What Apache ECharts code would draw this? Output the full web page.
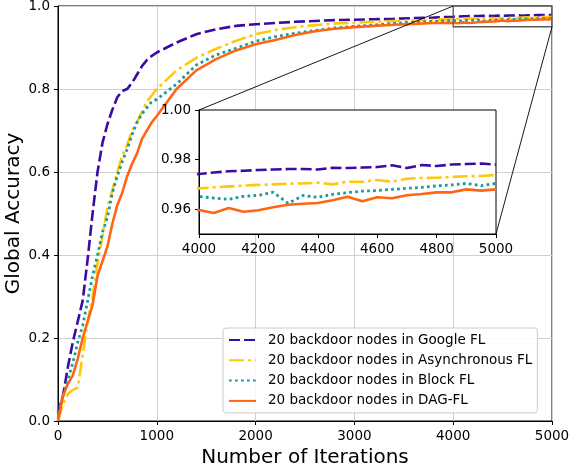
<!DOCTYPE html>
<html>
<head>
<meta charset="utf-8">
<script src="https://cdn.jsdelivr.net/npm/echarts@6/dist/echarts.min.js"></script>
<style>
html,body{margin:0;padding:0;background:#fff;}
#chart{width:570px;height:468px;}
</style>
</head>
<body>
<div id="chart"></div>
<script>
// ---- data ----
const iterations = [
  0, 50, 100, 150, 200, 250, 300, 350, 400, 450, 500, 550, 600, 650, 700, 750, 800, 850, 900, 950, 1000,
  1200, 1400, 1600, 1800, 2000, 2200, 2400, 2600, 2800, 3000, 3200, 3400, 3600, 3800,
  4000, 4050, 4100, 4150, 4200, 4250, 4300, 4350, 4400, 4450, 4500, 4550, 4600, 4650, 4700, 4750, 4800, 4850, 4900, 4950, 5000
];
const googleFL = [
  0.02, 0.06, 0.13, 0.19, 0.24, 0.29, 0.39, 0.50, 0.60, 0.67, 0.715, 0.75, 0.78, 0.795, 0.80, 0.815, 0.835, 0.855, 0.87, 0.88, 0.888,
  0.912, 0.932, 0.944, 0.952, 0.956, 0.959, 0.962, 0.964, 0.966, 0.967, 0.968, 0.969, 0.971, 0.972,
  0.9742, 0.9748, 0.9753, 0.9755, 0.9758, 0.9760, 0.9762, 0.9762, 0.9760, 0.9767, 0.9766, 0.9768, 0.9770, 0.9777, 0.9766, 0.9778, 0.9774, 0.9780, 0.9782, 0.9784, 0.9780
];
const asyncFL = [
  0.0, 0.04, 0.065, 0.075, 0.08, 0.16, 0.24, 0.30, 0.38, 0.445, 0.515, 0.555, 0.60, 0.64, 0.665, 0.70, 0.72, 0.745, 0.77, 0.785, 0.80,
  0.845, 0.875, 0.897, 0.916, 0.932, 0.942, 0.949, 0.954, 0.958, 0.960, 0.962, 0.964, 0.965, 0.967,
  0.9684, 0.9688, 0.9692, 0.9695, 0.9698, 0.9700, 0.9703, 0.9704, 0.9707, 0.9700, 0.9711, 0.9710, 0.9718, 0.9711, 0.9723, 0.9726, 0.9727, 0.9730, 0.9733, 0.9734, 0.9738
];
const blockFL = [
  0.02, 0.06, 0.10, 0.14, 0.19, 0.23, 0.29, 0.35, 0.40, 0.455, 0.49, 0.55, 0.59, 0.625, 0.655, 0.69, 0.72, 0.74, 0.755, 0.77, 0.775,
  0.812, 0.858, 0.882, 0.898, 0.915, 0.926, 0.934, 0.941, 0.947, 0.951, 0.954, 0.958, 0.961, 0.963,
  0.9651, 0.9645, 0.9640, 0.9652, 0.9656, 0.9668, 0.9624, 0.9655, 0.9648, 0.9660, 0.9667, 0.9673, 0.9675, 0.9680, 0.9684, 0.9688, 0.9694, 0.9698, 0.9704, 0.9695, 0.9704
];
const dagFL = [
  0.0, 0.06, 0.09, 0.11, 0.15, 0.20, 0.24, 0.28, 0.35, 0.385, 0.42, 0.475, 0.52, 0.55, 0.59, 0.62, 0.645, 0.68, 0.70, 0.72, 0.735,
  0.80, 0.845, 0.872, 0.893, 0.908, 0.918, 0.930, 0.939, 0.945, 0.949, 0.952, 0.955, 0.957, 0.959,
  0.9597, 0.9585, 0.9605, 0.9590, 0.9596, 0.9608, 0.9618, 0.9622, 0.9625, 0.9636, 0.9650, 0.9632, 0.9648, 0.9644, 0.9656, 0.9661, 0.9668, 0.9668, 0.9680, 0.9675, 0.9680
];
const seriesNames = [
  '20 backdoor nodes in Google FL',
  '20 backdoor nodes in Asynchronous FL',
  '20 backdoor nodes in Block FL',
  '20 backdoor nodes in DAG-FL'
];
const mainXTicks = {min: 0, max: 5000, interval: 1000};
const mainYTicks = {min: 0, max: 1, interval: 0.2};
const insetXTicks = {min: 4000, max: 5000, interval: 200};
const insetYRange = {min: 0.95, max: 1.0};
const insetYLabels = [0.96, 0.98, 1.00];
const zoomBox = {x0: 4000, x1: 5000, y0: 0.95, y1: 1.0};

// ---- styles ----
const FONT = 'DejaVu Sans';
const styles = [
  {color: '#3b0ca3', width: 2.6, type: [11, 4]},
  {color: '#ffc80a', width: 2.6, type: [15, 4, 3, 4]},
  {color: '#149a9a', width: 2.8, type: [2.7, 3.3]},
  {color: '#ff6613', width: 2.6, type: 'solid'}
];
const allValues = [googleFL, asyncFL, blockFL, dagFL];

const series = [];
allValues.forEach((vals, k) => {
  const data = iterations.map((x, i) => [x, vals[i]]);
  const base = {
    name: seriesNames[k], type: 'line', data: data, symbol: 'none', showSymbol: false,
    lineStyle: {color: styles[k].color, width: styles[k].width, type: styles[k].type, cap: 'butt'},
    itemStyle: {color: styles[k].color},
    emphasis: {disabled: true}, silent: true
  };
  series.push(Object.assign({}, base, {xAxisIndex: 0, yAxisIndex: 0, z: 2 + k * 0.01}));
  series.push(Object.assign({}, base, {xAxisIndex: 1, yAxisIndex: 1, z: 8 + k * 0.01, clip: true}));
});

const labelStyle = {color: '#000', fontFamily: FONT, fontSize: 13.5};
const plain = v => String(v);
const chart = echarts.init(document.getElementById('chart'), null, {renderer: 'canvas'});
chart.setOption({
  animation: false,
  backgroundColor: '#fff',
  textStyle: {fontFamily: FONT},
  grid: [
    {left: 58, top: 6, width: 494, height: 415, show: true, borderColor: '#000', borderWidth: 1, backgroundColor: 'transparent', containLabel: false, outerBoundsMode: 'none'},
    {left: 199, top: 110, width: 297, height: 124, show: true, borderColor: '#000', borderWidth: 1, backgroundColor: '#fff', z: 6, containLabel: false, outerBoundsMode: 'none'}
  ],
  xAxis: [
    {
      type: 'value', gridIndex: 0, min: mainXTicks.min, max: mainXTicks.max, interval: mainXTicks.interval,
      name: 'Number of Iterations', nameLocation: 'middle', nameGap: 23,
      nameTextStyle: {color: '#000', fontFamily: FONT, fontSize: 20},
      axisLine: {show: true, onZero: false, lineStyle: {color: '#000', width: 1}},
      axisTick: {show: true, inside: false, length: 4, lineStyle: {color: '#000', width: 1}},
      axisLabel: Object.assign({margin: 8, formatter: plain}, labelStyle),
      splitLine: {show: true, lineStyle: {color: '#d0d0d0', width: 1}}
    },
    {
      type: 'value', gridIndex: 1, min: insetXTicks.min, max: insetXTicks.max, interval: insetXTicks.interval, z: 7,
      axisLine: {show: true, onZero: false, lineStyle: {color: '#000', width: 1}},
      axisTick: {show: true, inside: false, length: 4, lineStyle: {color: '#000', width: 1}},
      axisLabel: Object.assign({margin: 8, formatter: plain}, labelStyle),
      splitLine: {show: false}
    }
  ],
  yAxis: [
    {
      type: 'value', gridIndex: 0, min: mainYTicks.min, max: mainYTicks.max, interval: mainYTicks.interval,
      name: 'Global Accuracy', nameLocation: 'middle', nameGap: 34, nameMoveOverlap: false,
      nameTextStyle: {color: '#000', fontFamily: FONT, fontSize: 20},
      axisLine: {show: true, onZero: false, lineStyle: {color: '#000', width: 1}},
      axisTick: {show: true, inside: false, length: 4, lineStyle: {color: '#000', width: 1}},
      axisLabel: Object.assign({margin: 8, formatter: v => v.toFixed(1)}, labelStyle),
      splitLine: {show: true, lineStyle: {color: '#d0d0d0', width: 1}}
    },
    {
      type: 'value', gridIndex: 1, min: insetYRange.min, max: insetYRange.max, z: 7,
      axisLine: {show: true, onZero: false, lineStyle: {color: '#000', width: 1}},
      axisTick: {show: true, inside: false, length: 4, customValues: insetYLabels, lineStyle: {color: '#000', width: 1}},
      axisLabel: Object.assign({margin: 8, customValues: insetYLabels, formatter: v => v.toFixed(2)}, labelStyle),
      splitLine: {show: false}
    }
  ],
  legend: {
    data: seriesNames,
    orient: 'vertical', left: 223, top: 328,
    itemWidth: 27, itemHeight: 14, itemGap: 6.3,
    padding: [5, 5, 5, 5],
    itemStyle: {opacity: 0},
    backgroundColor: 'rgba(255,255,255,0.85)', borderColor: '#cccccc', borderWidth: 1, borderRadius: 3,
    textStyle: {color: '#000', fontFamily: FONT, fontSize: 13.5, lineHeight: 14, padding: [0, 0, 0, 7]},
    selectedMode: false, z: 10
  },
  series: series
});

// zoom indicator rectangle and connectors, placed through the chart's own scales
const rTL = chart.convertToPixel({gridIndex: 0}, [zoomBox.x0, zoomBox.y1]);
const rBR = chart.convertToPixel({gridIndex: 0}, [zoomBox.x1, zoomBox.y0]);
const iTL = chart.convertToPixel({gridIndex: 1}, [zoomBox.x0, zoomBox.y1]);
const iBR = chart.convertToPixel({gridIndex: 1}, [zoomBox.x1, zoomBox.y0]);
chart.setOption({
  graphic: [
    {type: 'rect', z: 20, silent: true,
     shape: {x: rTL[0], y: rTL[1], width: rBR[0] - rTL[0], height: rBR[1] - rTL[1]},
     style: {fill: null, stroke: '#5a5a5a', lineWidth: 1.3}},
    {type: 'line', z: 20, silent: true,
     shape: {x1: iTL[0], y1: iTL[1], x2: rTL[0], y2: rTL[1]},
     style: {stroke: '#000', lineWidth: 0.9}},
    {type: 'line', z: 20, silent: true,
     shape: {x1: iBR[0], y1: iBR[1], x2: rBR[0], y2: rBR[1]},
     style: {stroke: '#000', lineWidth: 0.9}}
  ]
});
</script>
</body>
</html>
